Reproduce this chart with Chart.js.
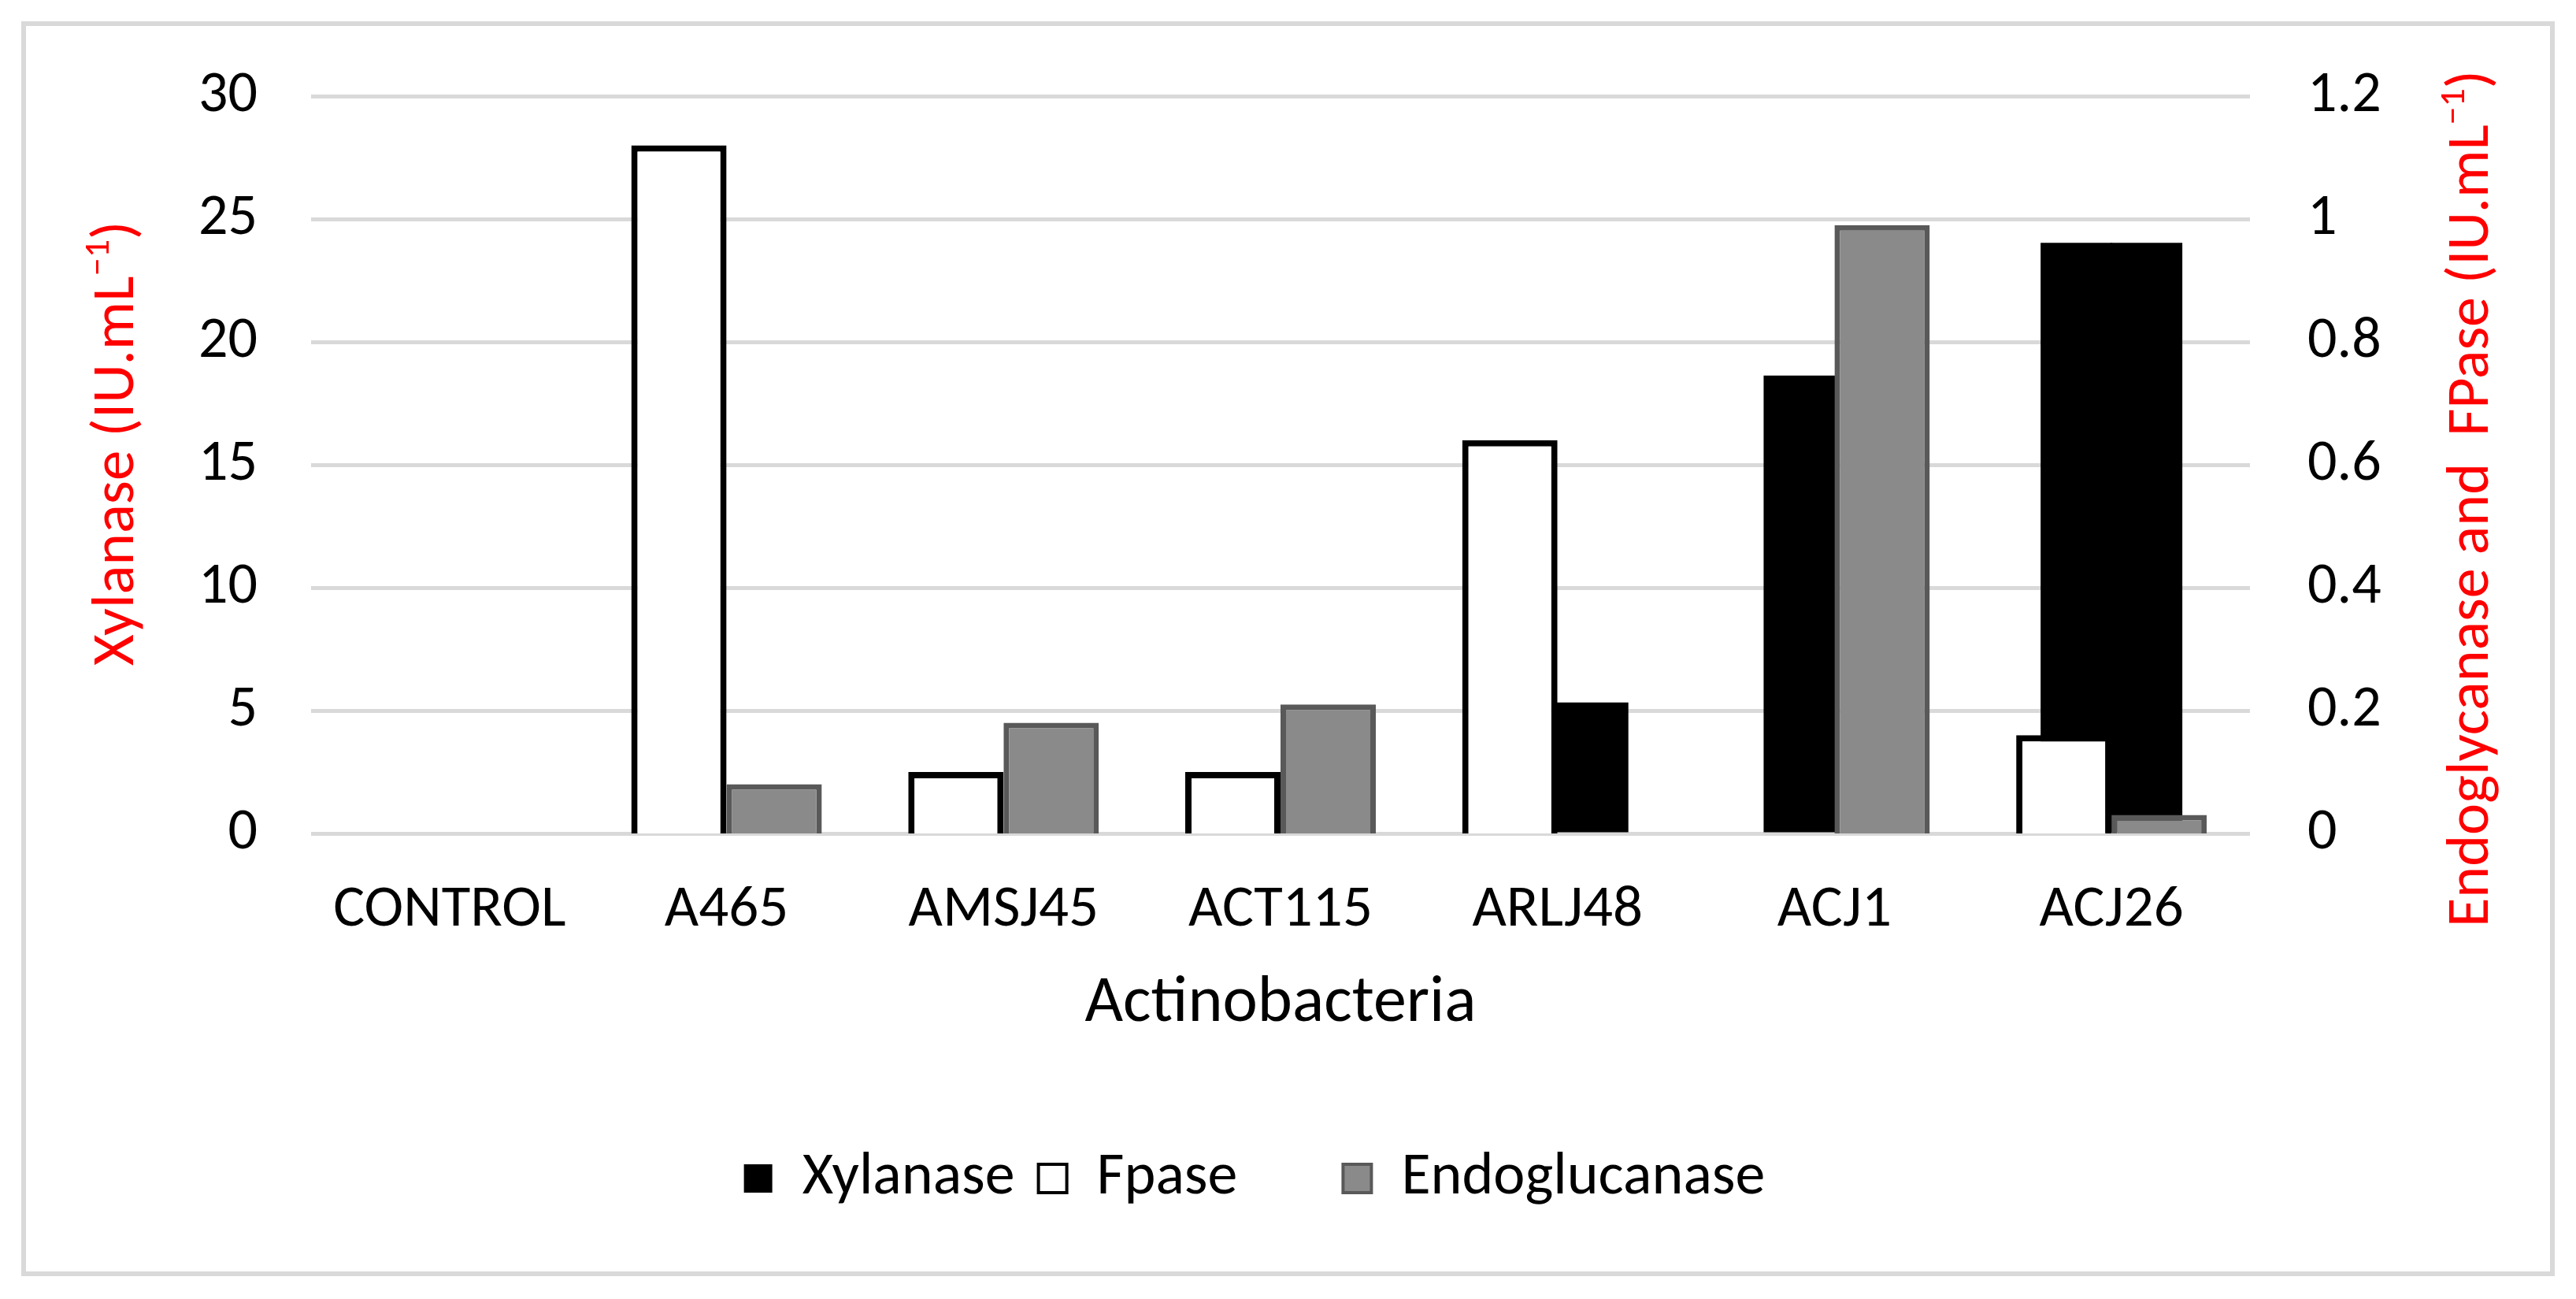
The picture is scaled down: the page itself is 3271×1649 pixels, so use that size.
<!DOCTYPE html>
<html>
<head>
<meta charset="utf-8">
<script src="https://cdn.jsdelivr.net/npm/chart.js@4.4.1/dist/chart.umd.min.js"></script>
<style>
  html, body { margin: 0; padding: 0; background: #fff; }
  canvas { display: block; }
</style>
</head>
<body>
<canvas id="chart" width="3271" height="1649"></canvas>
<script>
// strains on the x axis
var strains = ['CONTROL', 'A465', 'AMSJ45', 'ACT115', 'ARLJ48', 'ACJ1', 'ACJ26'];

// Xylanase, left axis (IU/mL). The original sheet has it as two series side by side
var xylanaseLeft = [0, 0, 0, 0, 0, 18.6, 24];
var xylanaseRight = [0, 0, 0, 0, 5.3, 0, 24];

// Fpase and Endoglucanase, right axis (IU/mL)
var fpase = [0, 1.12, 0.1, 0.1, 0.64, 0, 0.16];
var endoglucanase = [0, 0.08, 0.18, 0.21, 0, 0.99, 0.03];

// tick labels
var leftTicks = ['0', '5', '10', '15', '20', '25', '30'];
var rightTicks = ['0', '0.2', '0.4', '0.6', '0.8', '1', '1.2'];

var FONT = 'Carlito, Calibri, Lato, sans-serif';

// draws a rotated red axis title with a small superscript -1
function drawTitle(ctx, text, x, y, size) {
  var sup = Math.round(size * 0.6);
  ctx.save();
  ctx.translate(x, y);
  ctx.rotate(-Math.PI / 2);
  ctx.fillStyle = '#ff0000';
  ctx.textBaseline = 'middle';
  ctx.textAlign = 'left';
  ctx.font = size + 'px ' + FONT;
  var w1 = ctx.measureText(text).width;
  var w3 = ctx.measureText(')').width;
  ctx.font = sup + 'px ' + FONT;
  var w2 = ctx.measureText('\u22121').width;
  var start = -(w1 + w2 + w3) / 2;
  ctx.font = size + 'px ' + FONT;
  ctx.fillText(text, start, 0);
  ctx.fillText(')', start + w1 + w2, 0);
  ctx.font = sup + 'px ' + FONT;
  ctx.fillText('\u22121', start + w1, -size * 0.3);
  ctx.restore();
}

var frame = {
  id: 'frame',
  beforeDraw: function(chart) {
    var ctx = chart.ctx;
    ctx.save();
    ctx.fillStyle = '#fff';
    ctx.fillRect(0, 0, chart.width, chart.height);
    ctx.strokeStyle = '#d9d9d9';
    ctx.lineWidth = 6;
    ctx.strokeRect(30, 30, chart.width - 60, chart.height - 62);
    ctx.restore();
  },
  afterDraw: function(chart) {
    var area = chart.chartArea;
    var midY = (area.top + area.bottom) / 2;
    drawTitle(chart.ctx, 'Xylanase (IU.mL', chart.scales.y.left + 48, midY - 27, 77);
    drawTitle(chart.ctx, 'Endoglycanase and  FPase (IU.mL', chart.scales.y2.right - 48, midY + 43, 76);
  }
};

function legendItem(ds, i) {
  return {
    text: ds.label,
    fillStyle: ds.backgroundColor,
    strokeStyle: ds.borderColor || ds.backgroundColor,
    lineWidth: ds.borderWidth ? 4 : 0,
    hidden: false,
    datasetIndex: i
  };
}
function blankItem(text) {
  return { text: text, fillStyle: 'rgba(0,0,0,0)', strokeStyle: 'rgba(0,0,0,0)', lineWidth: 0, hidden: false };
}

// only widen the two xylanase halves a little when they really have a value,
// so the double bar has no seam and the zero ones stay invisible
function inflateIfValue(c) {
  return c.raw ? 1 : 0;
}

new Chart(document.getElementById('chart'), {
  type: 'bar',
  data: {
    labels: strains,
    datasets: [
      { label: 'Xylanase', data: xylanaseLeft, yAxisID: 'y', stack: 'L', backgroundColor: '#000000',
        borderWidth: 0, inflateAmount: inflateIfValue, categoryPercentage: 0.506, barPercentage: 1, order: 2 },
      { label: 'Xylanase', data: xylanaseRight, yAxisID: 'y', stack: 'R', backgroundColor: '#000000',
        borderWidth: 0, inflateAmount: inflateIfValue, categoryPercentage: 0.506, barPercentage: 1, order: 2 },
      { label: 'Fpase', data: fpase, yAxisID: 'y2', stack: 'L', backgroundColor: '#ffffff', borderColor: '#000000',
        borderWidth: 8, categoryPercentage: 0.688, barPercentage: 1, order: 1 },
      { label: 'Endoglucanase', data: endoglucanase, yAxisID: 'y2', stack: 'R', backgroundColor: '#8a8a8a', borderColor: '#595959',
        borderWidth: 7, categoryPercentage: 0.688, barPercentage: 1, order: 1 }
    ]
  },
  options: {
    responsive: false,
    animation: false,
    devicePixelRatio: 1,
    layout: { padding: { left: 102, right: 83, top: 122, bottom: 105 } },
    plugins: {
      tooltip: { enabled: false },
      legend: {
        position: 'bottom',
        labels: {
          font: { family: FONT, size: 76 },
          color: '#000',
          boxWidth: 36,
          boxHeight: 36,
          padding: 30,
          generateLabels: function(chart) {
            var ds = chart.data.datasets;
            return [legendItem(ds[0], 0), legendItem(ds[2], 2), blankItem(''), legendItem(ds[3], 3), blankItem('')];
          }
        }
      }
    },
    scales: {
      x: {
        type: 'category',
        position: 'bottom',
        grid: { display: false },
        border: { display: false },
        ticks: { font: { family: FONT, size: 75 }, color: '#000', padding: 45, maxRotation: 0, autoSkip: false },
        title: { display: true, text: 'Actinobacteria', color: '#000', font: { family: FONT, size: 84 }, padding: { top: 0, bottom: 103 } },
        afterFit: function(s) { s.height = 370; }
      },
      y: {
        position: 'left',
        min: 0, max: 30,
        stacked: false,
        grid: { color: '#d9d9d9', lineWidth: 5, drawTicks: false },
        border: { display: false },
        ticks: { stepSize: 5, padding: 68, font: { family: FONT, size: 74 }, color: '#000',
          callback: function(v, i) { return leftTicks[i]; } },
        afterFit: function(s) { s.width = 293; }
      },
      y2: {
        position: 'right',
        min: 0, max: 1.2,
        stacked: false,
        grid: { display: false, drawTicks: false },
        border: { display: false },
        ticks: { stepSize: 0.2, padding: 73, font: { family: FONT, size: 74 }, color: '#000',
          callback: function(v, i) { return rightTicks[i]; } },
        afterFit: function(s) { s.width = 331; }
      }
    }
  },
  plugins: [frame]
});
</script>
</body>
</html>
